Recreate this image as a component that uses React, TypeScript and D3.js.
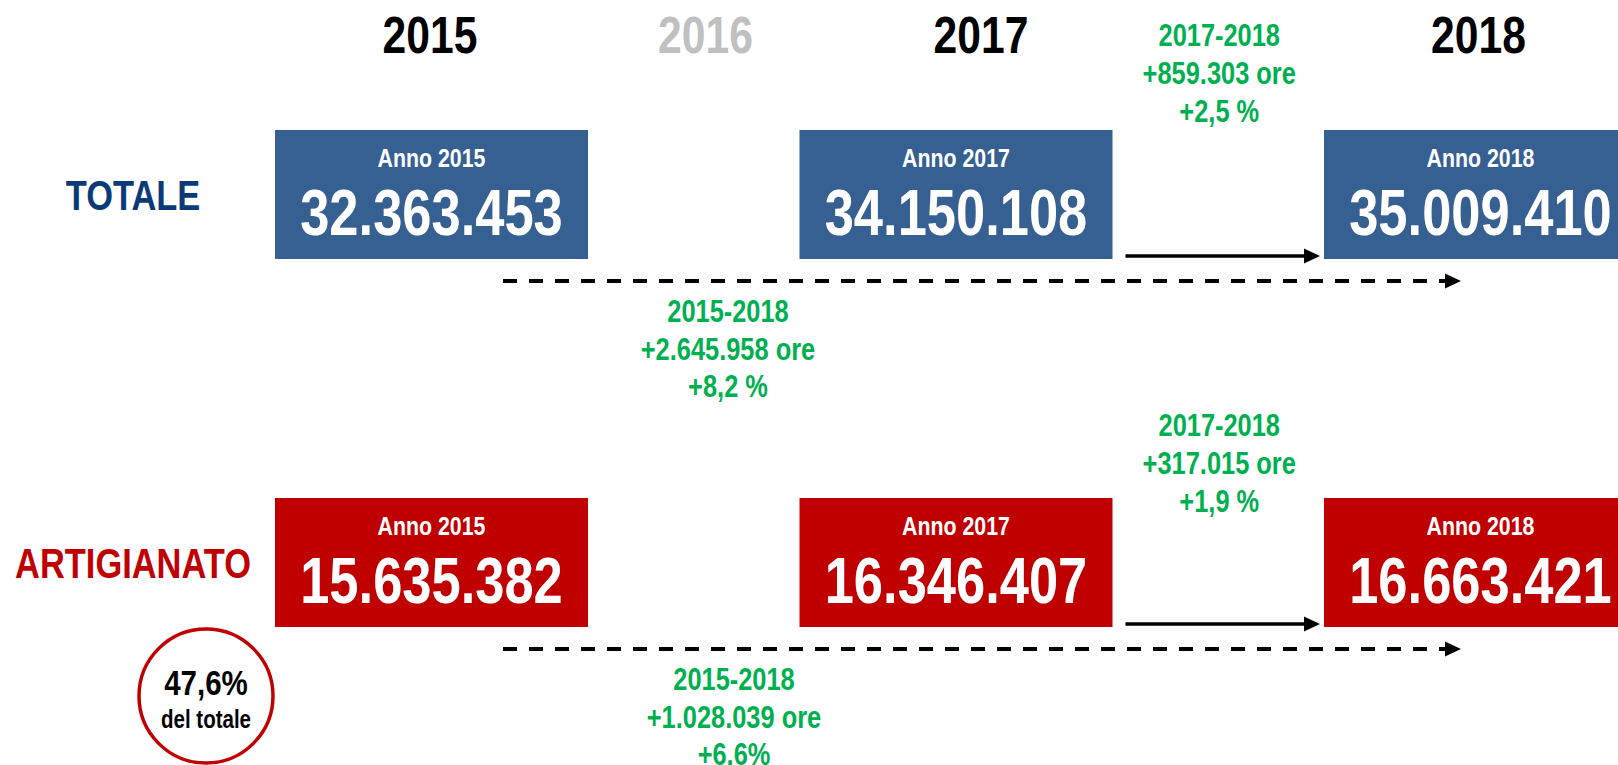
import { useEffect } from 'react';
import type { ReactNode } from 'react';
import * as d3 from 'd3';

// Data
const headerYears = [2015, 2016, 2017, 2018];
const boxYears = [2015, 2017, 2018];
const rowLabels = ['TOTALE', 'ARTIGIANATO'];
const totaleValues = [32363453, 34150108, 35009410];
const artigianatoValues = [15635382, 16346407, 16663421];
const shortPeriod = '2017-2018';
const shortDelta = [859303, 317015];
const shortPct = ['+2,5 %', '+1,9 %'];
const longPeriod = '2015-2018';
const longDelta = [2645958, 1028039];
const longPct = ['+8,2 %', '+6,6%'];
const artigianatoShare = 47.6;

const W = 1618;
const H = 765;
const FONT = "'Liberation Sans', Arial, sans-serif";
const NARROW = 0.82; // Arial Narrow is Arial squeezed horizontally
const BLUE = '#365f92';
const NAVY = '#0b3a78';
const RED = '#c00000';
const GREEN = '#00b050';
const GRAY = '#c0c0c0';

const it = d3.formatLocale({ decimal: ',', thousands: '.', grouping: [3], currency: ['€', ''] });
const fmtInt = it.format(',d');
const fmtDelta = it.format('+,d');
const fmtShare = it.format('.1f');

function T({ x, y, size, fill, children }: { x: number; y: number; size: number; fill: string; children: ReactNode }) {
  return (
    <text
      transform={`translate(${x},${y}) scale(${NARROW},1)`}
      textAnchor="middle"
      fontSize={size}
      fill={fill}
    >
      {children}
    </text>
  );
}

export default function App() {
  useEffect(() => {
    document.body.style.margin = '0';
    document.body.style.overflow = 'hidden';
  }, []);

  const boxW = 313;
  const boxH = 129;
  // left edge of each year box
  const xBox = d3.scalePoint<number>().domain(boxYears).range([275, 1324]);
  const boxCenter = (y: number) => (xBox(y) as number) + boxW / 2;
  // header year positions
  const xHead = d3.scaleLinear().domain([2015, 2017]).range([430, 981]);
  const headX = (y: number) => (y === 2018 ? boxCenter(2018) - 2 : xHead(y));

  const rowTop = d3.scalePoint<string>().domain(rowLabels).range([130, 498]);
  const rowFill = [BLUE, RED];
  const labelFill = [NAVY, RED];
  const rowValues = [totaleValues, artigianatoValues];
  // baseline of the first line of the short-change label for each row
  const shortTop = [46, 436];

  const gapLeft = (xBox(2017) as number) + boxW;
  const gapRight = xBox(2018) as number;
  const gapMid = (gapLeft + gapRight) / 2;

  const arrowHead = (x: number, y: number) =>
    `M${x},${y} L${x - 16},${y - 7.5} L${x - 16},${y + 7.5} Z`;

  return (
    <div style={{ position: 'absolute', left: 0, top: 0 }}>
      <svg width={W} height={H} style={{ display: 'block', fontFamily: FONT, fontWeight: 700 }}>
        <rect width={W} height={H} fill="#fff" />

        {headerYears.map((y) => (
          <T key={y} x={headX(y)} y={53} size={52} fill={y === 2016 ? GRAY : '#000'}>
            {y}
          </T>
        ))}

        {rowLabels.map((label, r) => {
          const top = rowTop(label) as number;
          const lineY = top + boxH - 3;
          const dashY = top + 151;
          const longX = 728 + r * 6;
          return (
            <g key={label}>
              <T x={133} y={top + 80} size={42} fill={labelFill[r]}>
                {label}
              </T>

              {boxYears.map((yr, i) => (
                <g key={yr}>
                  <rect x={xBox(yr)} y={top} width={boxW} height={boxH} fill={rowFill[r]} />
                  <T x={boxCenter(yr)} y={top + 37} size={26} fill="#fff">
                    {`Anno ${yr}`}
                  </T>
                  <T x={boxCenter(yr)} y={top + 105} size={64} fill="#fff">
                    {fmtInt(rowValues[r][i])}
                  </T>
                </g>
              ))}

              {/* 2017 -> 2018 arrow */}
              <line x1={gapLeft + 13} x2={gapRight - 18} y1={lineY} y2={lineY} stroke="#000" strokeWidth={3.5} />
              <path d={arrowHead(gapRight - 4, lineY)} fill="#000" />

              {/* 2015 -> 2018 dashed arrow */}
              <line x1={503} x2={1446} y1={dashY} y2={dashY} stroke="#000" strokeWidth={4} strokeDasharray="14 12" />
              <path d={arrowHead(1461, dashY)} fill="#000" />

              <T x={gapMid + 1} y={shortTop[r]} size={31} fill={GREEN}>{shortPeriod}</T>
              <T x={gapMid + 1} y={shortTop[r] + 38} size={31} fill={GREEN}>{`${fmtDelta(shortDelta[r])} ore`}</T>
              <T x={gapMid + 1} y={shortTop[r] + 76} size={31} fill={GREEN}>{shortPct[r]}</T>

              <T x={longX} y={top + 192} size={31} fill={GREEN}>{longPeriod}</T>
              <T x={longX} y={top + 230} size={31} fill={GREEN}>{`${fmtDelta(longDelta[r])} ore`}</T>
              <T x={longX} y={top + 267} size={31} fill={GREEN}>{longPct[r]}</T>
            </g>
          );
        })}

        <circle cx={206} cy={696} r={67} fill="#fff" stroke={RED} strokeWidth={3.5} />
        <T x={206} y={695} size={36} fill="#000">
          {`${fmtShare(artigianatoShare)}%`}
        </T>
        <T x={206} y={728} size={25} fill="#000">
          del totale
        </T>
      </svg>
    </div>
  );
}
